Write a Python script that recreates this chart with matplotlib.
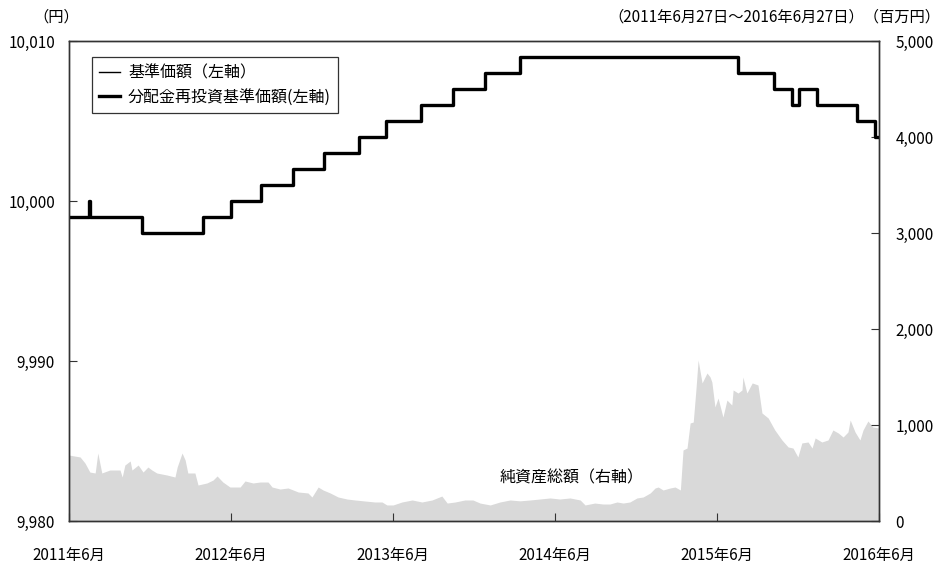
import numpy as np
import pandas as pd
import matplotlib
matplotlib.use("Agg")
import matplotlib.pyplot as plt
import matplotlib.dates as mdates
from matplotlib.ticker import FuncFormatter

plt.rcParams['font.family'] = ['Noto Sans CJK JP', 'DejaVu Sans']

# ------------------------------------------------------------------------------
# 基準価額 (steps, yen)
price_dates = ["2011-06-27", "2011-08-12", "2011-08-14", "2011-12-09", "2012-04-25",
               "2012-06-26", "2012-09-03", "2012-11-14", "2013-01-23", "2013-04-12",
               "2013-06-10", "2013-08-28", "2013-11-10", "2014-01-21", "2014-04-10",
               "2015-08-14", "2015-11-03", "2015-12-14", "2015-12-30", "2016-02-08",
               "2016-05-08", "2016-06-18", "2016-06-27"]
price_values = [9999, 10000, 9999, 9998, 9999,
                10000, 10001, 10002, 10003, 10004,
                10005, 10006, 10007, 10008, 10009,
                10008, 10007, 10006, 10007, 10006,
                10005, 10004, 10004]

# 純資産総額 (million yen)
nav_dates = ["2011-06-27", "2011-07-22", "2011-08-02", "2011-08-13", "2011-08-25", "2011-08-31",
             "2011-09-09", "2011-09-27", "2011-10-20", "2011-10-25", "2011-10-31", "2011-11-12",
             "2011-11-16", "2011-11-30", "2011-12-11", "2011-12-22", "2011-12-31", "2012-01-11",
             "2012-02-03", "2012-02-21", "2012-02-26", "2012-03-08", "2012-03-15", "2012-03-21",
             "2012-04-06", "2012-04-13", "2012-05-03", "2012-05-17", "2012-05-26", "2012-06-08",
             "2012-06-24", "2012-07-17", "2012-07-28", "2012-08-15", "2012-08-31", "2012-09-18",
             "2012-09-27", "2012-10-15", "2012-11-02", "2012-11-25", "2012-12-17", "2012-12-26",
             "2013-01-09", "2013-01-20", "2013-02-05", "2013-02-23", "2013-03-15", "2013-04-02",
             "2013-04-25", "2013-05-17", "2013-06-02", "2013-06-13", "2013-06-27", "2013-07-17",
             "2013-08-09", "2013-08-31", "2013-09-23", "2013-10-15", "2013-10-27", "2013-11-14",
             "2013-12-06", "2013-12-24", "2014-01-09", "2014-02-01", "2014-02-23", "2014-03-18",
             "2014-04-09", "2014-05-02", "2014-05-24", "2014-06-16", "2014-07-08", "2014-07-31",
             "2014-08-23", "2014-09-03", "2014-09-25", "2014-10-13", "2014-10-29", "2014-11-14",
             "2014-11-28", "2014-12-13", "2014-12-29", "2015-01-12", "2015-01-28", "2015-02-08",
             "2015-02-15", "2015-02-26", "2015-03-14", "2015-03-25", "2015-04-06", "2015-04-12",
             "2015-04-21", "2015-04-28", "2015-05-05", "2015-05-11", "2015-05-16", "2015-05-25",
             "2015-06-05", "2015-06-12", "2015-06-16", "2015-06-23", "2015-06-30", "2015-07-11",
             "2015-07-20", "2015-07-31", "2015-08-03", "2015-08-14", "2015-08-23", "2015-08-25",
             "2015-09-03", "2015-09-15", "2015-09-28", "2015-10-07", "2015-10-21", "2015-11-05",
             "2015-11-21", "2015-12-05", "2015-12-16", "2015-12-27", "2016-01-05", "2016-01-19",
             "2016-01-28", "2016-02-04", "2016-02-19", "2016-03-04", "2016-03-15", "2016-03-27",
             "2016-04-07", "2016-04-18", "2016-04-23", "2016-05-04", "2016-05-15", "2016-05-22",
             "2016-06-02", "2016-06-13", "2016-06-27"]
nav_values = [687, 667, 604, 510, 500, 708,
              500, 531, 531, 458, 583, 625,
              531, 583, 510, 562, 531, 500,
              479, 458, 562, 708, 635, 500,
              500, 375, 396, 427, 469, 406,
              354, 354, 417, 396, 406, 406,
              354, 333, 344, 302, 292, 250,
              354, 323, 292, 250, 229, 219,
              208, 198, 198, 167, 167, 198,
              219, 198, 219, 260, 187, 198,
              219, 219, 187, 167, 198, 219,
              210, 219, 229, 240, 229, 240,
              219, 167, 187, 177, 177, 198,
              187, 198, 240, 250, 292, 344,
              354, 323, 344, 354, 323, 740,
              760, 1021, 1031, 1365, 1677, 1438,
              1542, 1500, 1448, 1188, 1281, 1083,
              1260, 1208, 1365, 1333, 1365, 1500,
              1333, 1438, 1417, 1125, 1073, 948,
              844, 771, 760, 667, 813, 823,
              760, 865, 823, 844, 948, 917,
              875, 927, 1052, 927, 844, 948,
              1042, 979, 969]

xtick_dates = ["2011-06-27", "2012-06-27", "2013-06-27", "2014-06-27", "2015-06-27", "2016-06-27"]
xtick_labels = ["2011年6月", "2012年6月", "2013年6月", "2014年6月", "2015年6月", "2016年6月"]


# ------------------------------------------------------------------------------
def main():

	px = pd.to_datetime(price_dates)
	nx = pd.to_datetime(nav_dates)

	fig = plt.figure(figsize=(9.41, 5.67), dpi=100)
	ax = fig.add_axes([69/941, 1-521/567, 810/941, 480/567])
	ax2 = ax.twinx()

	# area on right axis, price in front
	ax2.fill_between(nx, nav_values, 0, color='#d9d9d9', linewidth=0)
	ax2.set_ylim(0, 5000)
	ax2.set_yticks([0, 1000, 2000, 3000, 4000, 5000])
	ax2.yaxis.set_major_formatter(FuncFormatter(lambda v, p: f"{int(v):,}"))

	ax.set_zorder(ax2.get_zorder() + 1)
	ax.patch.set_visible(False)

	ax.plot(px, price_values, drawstyle='steps-post', color='black', lw=1.0, label='基準価額（左軸）')
	ax.plot(px, price_values, drawstyle='steps-post', color='black', lw=2.4, label='分配金再投資基準価額(左軸)')

	ax.set_ylim(9980, 10010)
	ax.set_yticks([9980, 9990, 10000, 10010])
	ax.yaxis.set_major_formatter(FuncFormatter(lambda v, p: f"{int(v):,}"))
	ax.set_xlim(pd.Timestamp(xtick_dates[0]), pd.Timestamp(xtick_dates[-1]))
	ax.set_xticks(pd.to_datetime(xtick_dates))
	ax.set_xticklabels(xtick_labels)

	for a in (ax, ax2):
		for s in a.spines.values():
			s.set_color('#333333')
			s.set_linewidth(1.0)
	ax.tick_params(axis='x', direction='in', length=6, pad=19, labelsize=11, color='#333333')
	ax.tick_params(axis='y', direction='in', length=6, pad=10, labelsize=11, color='#333333')
	ax2.tick_params(axis='y', direction='in', length=6, pad=12, labelsize=11, color='#333333')

	leg = ax.legend(loc='upper left', bbox_to_anchor=(23/810, 1-16/480), fontsize=11.5,
	                frameon=True, fancybox=False, handlelength=1.3, handletextpad=0.5,
	                borderpad=0.45, labelspacing=0.45, borderaxespad=0)
	leg.get_frame().set_edgecolor('black')
	leg.get_frame().set_linewidth(0.9)

	fig.text(500/941, 1-478/567, '純資産総額（右軸）', fontsize=11.5, va='center', ha='left')
	fig.text(33/941, 1-17/567, '（円）', fontsize=11, va='center', ha='left')
	fig.text(1-1/941, 1-17/567, '（2011年6月27日～2016年6月27日）（百万円）', fontsize=11,
	         va='center', ha='right')

	plt.savefig('out.png', dpi=100)


# ------------------------------------------------------------------------------
if __name__ == '__main__':
	main()
